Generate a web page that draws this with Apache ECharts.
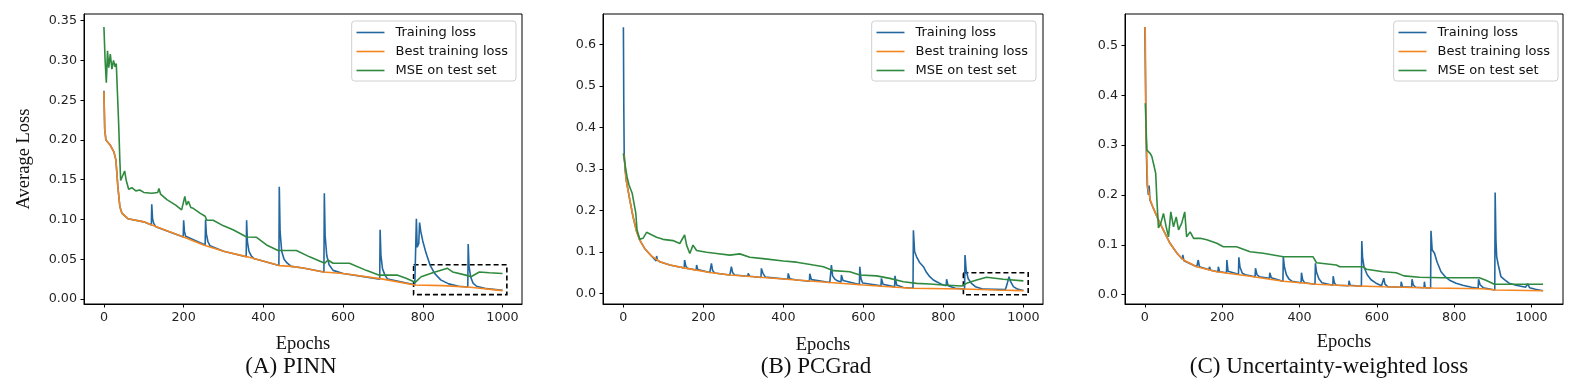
<!DOCTYPE html>
<html>
<head>
<meta charset="utf-8">
<script src="https://cdn.jsdelivr.net/npm/echarts@6/dist/echarts.min.js"></script>
<style>
  html, body { margin: 0; padding: 0; background: #fff; }
  #chart { width: 1581px; height: 386px; }
</style>
</head>
<body>
<div id="chart"></div>
<script>
// tick labels
const xTicks = [0, 200, 400, 600, 800, 1000];
const yTicksA = [0, 0.05, 0.10, 0.15, 0.20, 0.25, 0.30, 0.35];
const yTicksB = [0, 0.1, 0.2, 0.3, 0.4, 0.5, 0.6];
const yTicksC = [0, 0.1, 0.2, 0.3, 0.4, 0.5];
const seriesNames = ['Training loss', 'Best training loss', 'MSE on test set'];
const panelTitles = ['(A) PINN', '(B) PCGrad', '(C) Uncertainty-weighted loss'];

// (A) PINN  [epoch, loss]
const trainA = [[0,0.262],[2,0.213],[5,0.200],[15,0.194],[25,0.185],[30,0.175],[35,0.141],[40,0.116],[45,0.108],[60,0.101],[100,0.097],[119,0.093],[120,0.119],[122,0.101],[125,0.095],[130,0.091],[199,0.078],[200,0.099],[202,0.085],[205,0.079],[210,0.077],[254,0.068],[255,0.100],[257,0.082],[261,0.072],[266,0.067],[300,0.060],[357,0.053],[358,0.099],[360,0.072],[364,0.060],[370,0.054],[376,0.051],[439,0.042],[440,0.141],[442,0.085],[446,0.060],[452,0.050],[460,0.045],[470,0.041],[500,0.039],[552,0.034],[553,0.133],[555,0.080],[559,0.055],[565,0.043],[575,0.036],[600,0.032],[692,0.025],[693,0.087],[695,0.055],[699,0.038],[705,0.030],[712,0.025],[780,0.018],[783,0.018],[784,0.101],[786,0.065],[790,0.070],[792,0.096],[795,0.085],[800,0.073],[808,0.058],[818,0.043],[830,0.032],[845,0.024],[865,0.019],[890,0.016],[913,0.015],[914,0.069],[916,0.042],[920,0.028],[926,0.020],[935,0.016],[960,0.013],[1000,0.011]];
const bestA = [[0,0.261],[2,0.213],[5,0.200],[15,0.194],[25,0.185],[30,0.175],[35,0.141],[40,0.116],[45,0.108],[60,0.101],[100,0.097],[125,0.092],[200,0.078],[250,0.068],[300,0.060],[360,0.053],[440,0.042],[470,0.041],[500,0.039],[550,0.034],[600,0.032],[700,0.025],[780,0.0176],[850,0.0168],[920,0.0147],[1000,0.0105]];
const mseA = [[0,0.342],[3,0.300],[6,0.272],[9,0.312],[12,0.291],[16,0.308],[20,0.289],[24,0.300],[28,0.292],[31,0.296],[34,0.258],[37,0.220],[40,0.174],[42,0.149],[47,0.151],[52,0.161],[56,0.149],[62,0.138],[70,0.140],[80,0.136],[90,0.137],[100,0.134],[120,0.133],[135,0.134],[138,0.139],[142,0.132],[158,0.125],[180,0.118],[195,0.112],[203,0.129],[207,0.118],[212,0.123],[218,0.115],[224,0.114],[241,0.108],[254,0.104],[258,0.099],[274,0.099],[300,0.092],[324,0.087],[358,0.078],[383,0.0776],[408,0.068],[437,0.061],[450,0.061],[483,0.061],[516,0.053],[554,0.045],[562,0.049],[575,0.045],[616,0.045],[658,0.036],[691,0.030],[708,0.030],[737,0.030],[758,0.026],[781,0.021],[796,0.028],[825,0.033],[862,0.0386],[875,0.034],[908,0.030],[921,0.028],[942,0.034],[967,0.033],[1000,0.032]];
const boxA = [[777, 0.043], [1011, 0.0055]];

// (B) PCGrad
const trainB = [[0,0.641],[1,0.45],[2,0.336],[4,0.30],[7,0.273],[16,0.225],[24,0.185],[33,0.149],[41,0.128],[53,0.108],[70,0.090],[82,0.078],[83,0.090],[85,0.080],[91,0.076],[116,0.068],[152,0.061],[153,0.080],[156,0.066],[160,0.060],[182,0.056],[183,0.068],[186,0.057],[216,0.050],[220,0.072],[223,0.055],[228,0.049],[266,0.044],[270,0.064],[273,0.050],[278,0.044],[311,0.041],[312,0.048],[316,0.041],[344,0.038],[345,0.060],[349,0.048],[355,0.039],[411,0.034],[412,0.048],[416,0.035],[433,0.032],[465,0.029],[466,0.047],[470,0.033],[475,0.029],[516,0.026],[520,0.068],[523,0.042],[528,0.035],[535,0.030],[544,0.027],[545,0.044],[549,0.031],[590,0.021],[591,0.064],[594,0.035],[598,0.025],[644,0.018],[645,0.036],[649,0.022],[678,0.0155],[679,0.042],[683,0.020],[700,0.014],[724,0.012],[725,0.152],[728,0.100],[733,0.088],[740,0.075],[750,0.064],[758,0.050],[766,0.040],[775,0.032],[783,0.028],[795,0.022],[807,0.018],[808,0.034],[812,0.018],[830,0.012],[853,0.0105],[854,0.092],[857,0.055],[862,0.035],[870,0.024],[880,0.016],[900,0.010],[955,0.009],[960,0.025],[964,0.040],[968,0.028],[975,0.016],[985,0.010],[1000,0.0065]];
const bestB = [[0,0.336],[2,0.330],[7,0.273],[16,0.225],[24,0.185],[33,0.149],[41,0.128],[53,0.108],[70,0.090],[91,0.076],[116,0.068],[158,0.060],[216,0.050],[266,0.044],[350,0.038],[433,0.032],[516,0.026],[600,0.020],[683,0.0145],[720,0.012],[850,0.0104],[933,0.008],[1000,0.0064]];
const mseB = [[0,0.337],[2,0.337],[5,0.305],[9,0.281],[14,0.261],[18,0.257],[22,0.241],[27,0.237],[31,0.193],[34,0.153],[41,0.130],[49,0.1325],[58,0.147],[70,0.141],[83,0.135],[99,0.130],[124,0.127],[141,0.120],[153,0.141],[158,0.116],[166,0.096],[174,0.116],[183,0.103],[208,0.099],[233,0.096],[266,0.092],[291,0.095],[316,0.087],[349,0.0835],[400,0.078],[433,0.075],[475,0.068],[500,0.064],[525,0.0546],[566,0.052],[591,0.044],[633,0.042],[666,0.036],[700,0.028],[733,0.024],[766,0.0225],[800,0.020],[846,0.0177],[858,0.024],[883,0.032],[908,0.0386],[950,0.034],[1000,0.030]];
const boxB = [[850, 0.0496], [1012, -0.0034]];

// (C) Uncertainty-weighted loss
const trainC = [[0,0.537],[2,0.39],[4,0.28],[6,0.22],[9,0.200],[11,0.219],[13,0.190],[22,0.173],[35,0.150],[52,0.123],[65,0.103],[83,0.083],[97,0.071],[98,0.080],[101,0.068],[134,0.056],[138,0.0695],[141,0.056],[166,0.050],[167,0.056],[170,0.049],[189,0.046],[190,0.056],[193,0.046],[211,0.044],[212,0.0695],[215,0.047],[220,0.043],[242,0.041],[243,0.075],[246,0.055],[252,0.043],[260,0.040],[285,0.036],[286,0.053],[290,0.040],[296,0.036],[322,0.033],[323,0.044],[327,0.034],[357,0.027],[358,0.076],[361,0.055],[366,0.040],[373,0.031],[380,0.027],[404,0.024],[405,0.044],[408,0.030],[413,0.024],[440,0.021],[441,0.063],[444,0.045],[450,0.032],[458,0.024],[486,0.019],[487,0.037],[490,0.024],[495,0.019],[527,0.018],[528,0.028],[531,0.019],[560,0.017],[561,0.1076],[563,0.075],[567,0.055],[575,0.040],[585,0.030],[598,0.023],[612,0.018],[617,0.016],[618,0.033],[621,0.021],[628,0.016],[662,0.015],[663,0.026],[666,0.016],[690,0.015],[691,0.031],[694,0.020],[700,0.015],[722,0.014],[723,0.026],[725,0.014],[739,0.0134],[740,0.128],[743,0.090],[749,0.083],[756,0.065],[766,0.046],[778,0.035],[788,0.029],[805,0.023],[822,0.019],[845,0.015],[862,0.013],[863,0.031],[867,0.020],[875,0.014],[905,0.0095],[906,0.205],[908,0.110],[910,0.076],[914,0.060],[921,0.036],[930,0.030],[942,0.023],[960,0.019],[985,0.015],[990,0.022],[995,0.014],[1010,0.011],[1030,0.008]];
const bestC = [[0,0.537],[1,0.520],[3,0.323],[7,0.2166],[14,0.190],[22,0.173],[35,0.150],[52,0.123],[65,0.103],[83,0.083],[100,0.0695],[134,0.056],[186,0.046],[272,0.037],[358,0.027],[444,0.021],[530,0.018],[616,0.016],[745,0.0134],[874,0.012],[908,0.0094],[1030,0.008]];
const mseC = [[1,0.384],[5,0.290],[14,0.283],[18,0.277],[24,0.257],[28,0.243],[31,0.190],[35,0.134],[41,0.143],[48,0.163],[55,0.136],[61,0.116],[67,0.166],[74,0.136],[81,0.156],[87,0.130],[95,0.143],[103,0.166],[108,0.116],[117,0.126],[126,0.113],[143,0.113],[160,0.110],[186,0.103],[203,0.096],[237,0.096],[272,0.086],[306,0.083],[358,0.076],[435,0.076],[444,0.064],[495,0.0595],[504,0.056],[564,0.056],[573,0.051],[616,0.046],[650,0.044],[670,0.0377],[710,0.035],[770,0.034],[865,0.034],[882,0.029],[904,0.021],[1030,0.021]];

const colors = ['#22679f', '#f5851f', '#2f8a3f'];
const tickFont = 'DejaVu Sans';
const serif = 'Liberation Serif';

const panels = [
  { grid: {left: 84, top: 14, width: 438, height: 290}, xr: [-50, 1049], yr: [-0.0063, 0.3584], yTicks: yTicksA, digits: 2,
    data: [trainA, bestA, mseA], box: boxA, legendRight: 1065, titleX: 291, epochGap: 31, yName: 'Average Loss' },
  { grid: {left: 603, top: 14, width: 440, height: 290}, xr: [-51, 1049], yr: [-0.0258, 0.673], yTicks: yTicksB, digits: 1,
    data: [trainB, bestB, mseB], box: boxB, legendRight: 545, titleX: 816, epochGap: 32, yName: '' },
  { grid: {left: 1125, top: 14, width: 438, height: 290}, xr: [-51.5, 1081.5], yr: [-0.0187, 0.563], yTicks: yTicksC, digits: 1,
    data: [trainC, bestC, mseC], box: null, legendRight: 23, titleX: 1329, epochGap: 29, yName: '' }
];

const option = {
  animation: false,
  backgroundColor: '#fff',
  grid: panels.map(p => Object.assign({show: true, borderColor: '#000', borderWidth: 1, backgroundColor: 'transparent'}, p.grid)),
  xAxis: panels.map((p, i) => ({
    type: 'value', gridIndex: i, min: p.xr[0], max: p.xr[1],
    name: 'Epochs', nameLocation: 'middle', nameGap: p.epochGap,
    nameTextStyle: {fontFamily: serif, fontSize: 18.5, color: '#111'},
    axisLine: {show: true, onZero: false, lineStyle: {color: '#000', width: 1}},
    axisTick: {show: true, customValues: xTicks, length: 3.5, lineStyle: {color: '#000'}},
    axisLabel: {customValues: xTicks, color: '#222', fontFamily: tickFont, fontSize: 12.7, margin: 7,
      formatter: v => String(v)},
    splitLine: {show: false}
  })),
  yAxis: panels.map((p, i) => ({
    type: 'value', gridIndex: i, min: p.yr[0], max: p.yr[1],
    name: p.yName, nameLocation: 'middle', nameGap: 50, nameRotate: 90,
    nameTextStyle: {fontFamily: serif, fontSize: 18.5, color: '#111'},
    axisLine: {show: true, onZero: false, lineStyle: {color: '#000', width: 1}},
    axisTick: {show: true, customValues: p.yTicks, length: 3.5, lineStyle: {color: '#000'}},
    axisLabel: {customValues: p.yTicks, color: '#222', fontFamily: tickFont, fontSize: 12.7, margin: 7,
      formatter: v => v.toFixed(p.digits)},
    splitLine: {show: false}
  })),
  legend: panels.map(p => ({
    data: seriesNames, orient: 'vertical', right: p.legendRight, top: 21,
    itemWidth: 28, itemHeight: 14, itemGap: 6, padding: [5, 8, 4, 4],
    backgroundColor: 'rgba(255,255,255,0.8)', borderColor: '#d0d0d0', borderWidth: 1, borderRadius: 3,
    itemStyle: {opacity: 0},
    lineStyle: {width: 1.6},
    textStyle: {fontFamily: tickFont, fontSize: 13, color: '#111', padding: [0, 0, 0, 6]},
    selectedMode: false
  })),
  series: [],
  graphic: panels.map(p => ({
    type: 'text', x: p.titleX, y: 367,
    style: {text: '', fill: '#111', font: '23px "Liberation Serif"', align: 'center', verticalAlign: 'middle'}
  }))
};

panels.forEach((p, i) => {
  option.graphic[i].style.text = panelTitles[i];
  seriesNames.forEach((name, k) => {
    const s = {
      name: name, type: 'line', xAxisIndex: i, yAxisIndex: i,
      data: p.data[k], symbol: 'none', showSymbol: false,
      lineStyle: {color: colors[k], width: 1.6}, itemStyle: {color: colors[k]},
      z: 2 + k
    };
    if (k === 2 && p.box) {
      s.markArea = {
        silent: true,
        itemStyle: {color: 'rgba(0,0,0,0)', borderColor: '#000', borderWidth: 1.6, borderType: [5, 3]},
        data: [[{coord: p.box[0]}, {coord: p.box[1]}]]
      };
    }
    option.series.push(s);
  });
});

const chart = echarts.init(document.getElementById('chart'));
chart.setOption(option);
</script>
</body>
</html>
